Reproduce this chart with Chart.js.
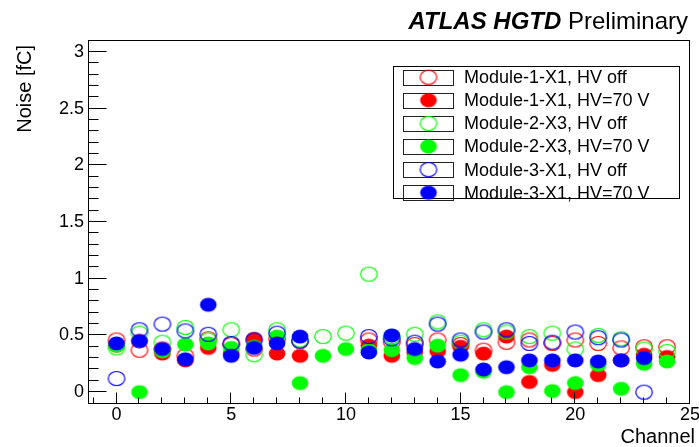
<!DOCTYPE html>
<html lang="en">
<head>
<meta charset="UTF-8">
<title>ATLAS HGTD - noise per channel</title>
<script src="https://cdn.jsdelivr.net/npm/chart.js"></script>
<style>
  html, body { margin: 0; padding: 0; background: #fff; }
  #wrap { width: 699px; height: 447px; }
</style>
</head>
<body>
<div id="wrap"><canvas id="noiseChart" width="699" height="447"></canvas></div>

<script>
  // channel numbers and noise values [fC] (null = no point)
  const channels = [0, 1, 2, 3, 4, 5, 6, 7, 8, 9, 10, 11, 12, 13, 14, 15, 16, 17, 18, 19, 20, 21, 22, 23, 24];

  const mod1HvOff = [0.46, 0.37, 0.38, 0.32, 0.47, 0.42, 0.38, 0.47, 0.45, null, null, 0.46, 0.44, 0.42, 0.46, 0.42, 0.37, 0.44, 0.46, 0.43, 0.46, 0.43, 0.39, 0.40, 0.40];
  const mod1Hv70 = [0.41, 0.45, 0.34, 0.28, 0.39, 0.34, 0.47, 0.34, 0.32, null, null, 0.41, 0.32, 0.35, 0.36, 0.40, 0.34, 0.49, 0.09, 0.24, 0.00, 0.15, 0.28, 0.33, 0.31];
  const mod2HvOff = [0.39, 0.52, 0.44, 0.57, 0.46, 0.55, 0.33, 0.55, 0.46, 0.49, 0.52, 1.04, 0.49, 0.51, 0.62, 0.44, 0.55, 0.53, 0.49, 0.52, 0.38, 0.50, 0.47, 0.38, 0.36];
  const mod2Hv70 = [0.41, 0.00, 0.36, 0.42, 0.43, 0.39, 0.40, 0.49, 0.08, 0.32, 0.38, 0.37, 0.37, 0.30, 0.41, 0.15, 0.18, 0.00, 0.22, 0.01, 0.08, 0.24, 0.03, 0.25, 0.27];
  const mod3HvOff = [0.12, 0.55, 0.60, 0.54, 0.51, 0.43, 0.46, 0.52, 0.45, null, null, 0.49, 0.47, 0.44, 0.60, 0.46, 0.53, 0.55, 0.43, 0.44, 0.53, 0.48, 0.46, 0.00, null];
  const mod3Hv70 = [0.43, 0.45, 0.38, 0.29, 0.77, 0.32, 0.39, 0.43, 0.49, null, null, 0.35, 0.50, 0.38, 0.27, 0.33, 0.20, 0.22, 0.28, 0.28, 0.28, 0.27, 0.28, 0.30, null];

  const seriesLabels = ['Module-1-X1, HV off', 'Module-1-X1, HV=70 V', 'Module-2-X3, HV off', 'Module-2-X3, HV=70 V', 'Module-3-X1, HV off', 'Module-3-X1, HV=70 V'];
  const xTickVals = [0, 5, 10, 15, 20, 25];
  const yTickVals = [0, 0.5, 1, 1.5, 2, 2.5, 3];

  const FONT = '"Liberation Sans", Arial, Helvetica, sans-serif';

  // ROOT style elliptic marker (open or full circle)
  function makeMarker(color, filled) {
    const c = document.createElement('canvas');
    c.width = 20; c.height = 17;
    const g = c.getContext('2d');
    g.beginPath();
    g.ellipse(10, 8.5, 8.3, 7, 0, 0, Math.PI * 2);
    if (filled) { g.fillStyle = color; g.fill(); }
    else { g.strokeStyle = color; g.lineWidth = 1.2; g.stroke(); }
    return c;
  }

  function toPoints(vals) {
    const pts = [];
    vals.forEach((v, i) => { if (v !== null) pts.push({ x: channels[i], y: v }); });
    return pts;
  }

  const allSeries = [mod1HvOff, mod1Hv70, mod2HvOff, mod2Hv70, mod3HvOff, mod3Hv70];
  const colors = ['#ff0000', '#ff0000', '#00ff00', '#00ff00', '#0000ff', '#0000ff'];

  const datasets = allSeries.map((vals, i) => ({
    label: seriesLabels[i],
    data: toPoints(vals),
    pointStyle: makeMarker(colors[i], i % 2 === 1),
    pointRadius: 8,
    pointHoverRadius: 8,
    borderColor: colors[i],
    backgroundColor: colors[i],
    showLine: false,
    order: 5 - i
  }));

  // frame, inward ticks, legend box and texts, ROOT like
  const rootStyle = {
    id: 'rootStyle',
    afterDraw(chart) {
      const ctx = chart.ctx;
      const a = chart.chartArea;
      const xs = chart.scales.x, ys = chart.scales.y;
      ctx.save();
      ctx.strokeStyle = '#000';
      ctx.lineWidth = 1;

      const L = Math.round(a.left) - 0.5, R = Math.round(a.right) - 0.5;
      const T = Math.round(a.top) - 0.5, B = Math.round(a.bottom) - 0.5;
      ctx.strokeRect(L, T, R - L, B - T);

      ctx.beginPath();
      for (let i = -1; i <= 31; i++) {
        const py = Math.round(ys.getPixelForValue(i / 10)) - 0.5;
        if (py < T || py > B) continue;
        const len = i % 5 === 0 ? 18 : 10;
        ctx.moveTo(L, py); ctx.lineTo(L + len, py);
      }
      for (let ch = -1; ch <= 25; ch++) {
        const px = Math.round(xs.getPixelForValue(ch)) - 0.5;
        if (px < L || px > R) continue;
        const len = ch % 5 === 0 ? 11 : 6;
        ctx.moveTo(px, B); ctx.lineTo(px, B - len);
      }
      ctx.stroke();

      // legend
      const lx = 393.5, ly = 66.5, lw = 286, lh = 132;
      ctx.fillStyle = '#fff';
      ctx.fillRect(lx, ly, lw, lh);
      ctx.strokeRect(lx, ly, lw, lh);
      chart.data.datasets.forEach((ds, i) => {
        const cy = 77.2 + i * 23.1;
        ctx.strokeStyle = '#222';
        ctx.strokeRect(403.5, Math.round(cy - 7.5) + 0.5, 50, 15);
        const m = ds.pointStyle;
        ctx.drawImage(m, 428.5 - m.width / 2, cy - m.height / 2);
        ctx.fillStyle = '#000';
        ctx.font = '18px ' + FONT;
        ctx.textAlign = 'left';
        ctx.textBaseline = 'middle';
        ctx.fillText(ds.label, 464, cy + 1);
      });

      // header
      ctx.fillStyle = '#000';
      ctx.textBaseline = 'alphabetic';
      ctx.textAlign = 'left';
      ctx.font = 'italic bold 24px ' + FONT;
      const w1 = ctx.measureText('ATLAS HGTD ').width;
      ctx.font = '24px ' + FONT;
      const w2 = ctx.measureText('Preliminary').width;
      const x0 = 688 - w1 - w2;
      ctx.font = 'italic bold 24px ' + FONT;
      ctx.fillText('ATLAS HGTD', x0, 28.5);
      ctx.font = '24px ' + FONT;
      ctx.fillText('Preliminary', x0 + w1, 28.5);

      // axis titles
      ctx.font = '20px ' + FONT;
      ctx.textAlign = 'right';
      ctx.fillText('Channel', 695, 443);
      ctx.translate(31, 45);
      ctx.rotate(-Math.PI / 2);
      ctx.fillText('Noise [fC]', 0, 0);
      ctx.restore();
    }
  };

  new Chart(document.getElementById('noiseChart'), {
    type: 'scatter',
    data: { datasets },
    options: {
      responsive: false,
      animation: false,
      layout: { padding: { top: 40.5, right: 9, left: 0, bottom: 0 } },
      plugins: { legend: { display: false }, tooltip: { enabled: false } },
      scales: {
        x: {
          type: 'linear',
          min: -1.2,
          max: 25,
          grid: { display: false, drawTicks: false },
          border: { display: false },
          afterBuildTicks: s => { s.ticks = xTickVals.map(v => ({ value: v })); },
          afterFit: s => { s.height = 43.5; s.paddingLeft = 0; s.paddingRight = 0; },
          ticks: { color: '#000', font: { family: FONT, size: 18 }, padding: 1, maxRotation: 0, autoSkip: false }
        },
        y: {
          type: 'linear',
          min: -0.1,
          max: 3.1,
          grid: { display: false, drawTicks: false },
          border: { display: false },
          afterBuildTicks: s => { s.ticks = yTickVals.map(v => ({ value: v })); },
          afterFit: s => { s.width = 89; s.paddingTop = 0; s.paddingBottom = 0; },
          ticks: { color: '#000', font: { family: FONT, size: 18 }, padding: 5, callback: v => String(v) }
        }
      }
    },
    plugins: [rootStyle]
  });
</script>
</body>
</html>
